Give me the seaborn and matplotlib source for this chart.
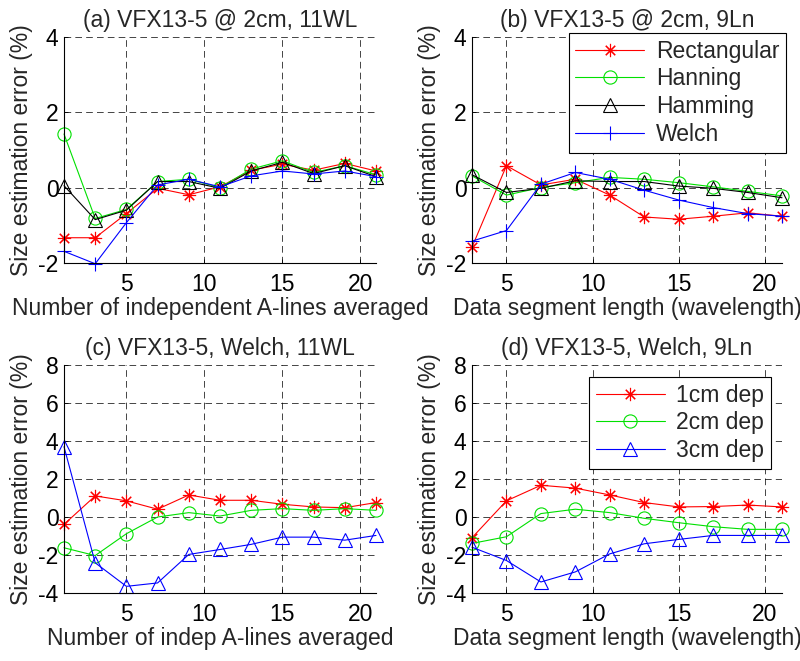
import numpy as np
import pandas as pd
import matplotlib
matplotlib.use("Agg")
import matplotlib.pyplot as plt
import seaborn as sns

sns.set_style("white")
plt.rcParams['font.family'] = ['Liberation Sans', 'DejaVu Sans']
plt.rcParams['axes.unicode_minus'] = False

# ---- data ----
x_a = [1, 3, 5, 7, 9, 11, 13, 15, 17, 19, 21]
a_rect = [-1.33, -1.33, -0.69, -0.02, -0.19, 0.02, 0.46, 0.62, 0.46, 0.64, 0.44]
a_hann = [1.42, -0.82, -0.58, 0.16, 0.22, 0.00, 0.49, 0.71, 0.40, 0.58, 0.34]
a_hamm = [0.05, -0.85, -0.60, 0.16, 0.16, -0.02, 0.44, 0.67, 0.37, 0.58, 0.29]
a_welch = [-1.69, -2.02, -0.93, 0.07, 0.22, 0.02, 0.31, 0.44, 0.36, 0.44, 0.29]

x_b = [3, 5, 7, 9, 11, 13, 15, 17, 19, 21]
b_rect = [-1.58, 0.58, 0.07, 0.22, -0.20, -0.78, -0.84, -0.76, -0.67, -0.76]
b_hann = [0.31, -0.20, 0.00, 0.13, 0.27, 0.22, 0.13, 0.02, -0.10, -0.22]
b_hamm = [0.34, -0.13, -0.02, 0.18, 0.16, 0.16, 0.04, -0.02, -0.13, -0.27]
b_welch = [-1.42, -1.14, 0.09, 0.40, 0.22, -0.07, -0.33, -0.53, -0.69, -0.76]

x_c = [1, 3, 5, 7, 9, 11, 13, 15, 17, 19, 21]
c_1cm = [-0.39, 1.11, 0.85, 0.41, 1.16, 0.88, 0.88, 0.67, 0.53, 0.49, 0.76]
c_2cm = [-1.62, -2.03, -0.88, 0.00, 0.23, 0.05, 0.35, 0.44, 0.35, 0.44, 0.35]
c_3cm = [3.70, -2.41, -3.65, -3.47, -1.97, -1.71, -1.44, -1.06, -1.06, -1.22, -0.97]

x_d = [3, 5, 7, 9, 11, 13, 15, 17, 19, 21]
d_1cm = [-1.09, 0.85, 1.67, 1.52, 1.16, 0.76, 0.53, 0.55, 0.63, 0.53]
d_2cm = [-1.39, -1.04, 0.18, 0.41, 0.23, -0.07, -0.30, -0.51, -0.65, -0.65]
d_3cm = [-1.59, -2.29, -3.42, -2.89, -1.94, -1.41, -1.18, -0.97, -0.97, -0.97]

window_names = ["Rectangular", "Hanning", "Hamming", "Welch"]
depth_names = ["1cm dep", "2cm dep", "3cm dep"]

titles = ["(a) VFX13-5 @ 2cm, 11WL", "(b) VFX13-5 @ 2cm, 9Ln",
          "(c) VFX13-5, Welch, 11WL", "(d) VFX13-5, Welch, 9Ln"]
xlabels = ["Number of independent A-lines averaged", "Data segment length (wavelength)",
           "Number of indep A-lines averaged", "Data segment length (wavelength)"]
ylabel = "Size estimation error (%)"

AST = (8, 2, 0)
win_styles = [("red", AST), ("#00e000", "o"), ("black", "^"), ("blue", "+")]
dep_styles = [("red", AST), ("#00e000", "o"), ("blue", "^")]

FS = 16.5
W, H = 800, 661
fig = plt.figure(figsize=(W / 100, H / 100), dpi=100)

def px_axes(l, t, r, b):
    return fig.add_axes([l / W, 1 - b / H, (r - l) / W, (b - t) / H])

axs = [px_axes(64, 36.7, 376, 263), px_axes(472, 36.7, 782, 263),
       px_axes(64, 365, 376, 593), px_axes(472, 365, 782, 593)]

panels = [
    (x_a, [a_rect, a_hann, a_hamm, a_welch], window_names, win_styles, (1, 21), (-2, 4), [-2, 0, 2, 4]),
    (x_b, [b_rect, b_hann, b_hamm, b_welch], window_names, win_styles, (3, 21), (-2, 4), [-2, 0, 2, 4]),
    (x_c, [c_1cm, c_2cm, c_3cm], depth_names, dep_styles, (1, 21), (-4, 8), [-4, -2, 0, 2, 4, 6, 8]),
    (x_d, [d_1cm, d_2cm, d_3cm], depth_names, dep_styles, (3, 21), (-4, 8), [-4, -2, 0, 2, 4, 6, 8]),
]

for i, (ax, (xs, ys, names, styles, xl, yl, yt)) in enumerate(zip(axs, panels)):
    for y, name, (col, mk) in zip(ys, names, styles):
        sns.lineplot(x=xs, y=y, ax=ax, color=col, marker=mk, markersize=9.5,
                     mfc="none", mec=col, mew=0.8, lw=0.8, label=name,
                     clip_on=False, legend=False)
    ax.set_xlim(*xl)
    ax.set_ylim(*yl)
    ax.set_xticks([5, 10, 15, 20])
    ax.set_yticks(yt)
    ax.grid(True, color="black", linestyle=(0, (8, 5)), lw=0.6, alpha=0.85)
    for s in ["top", "right"]:
        ax.spines[s].set_visible(False)
    for s in ["left", "bottom"]:
        ax.spines[s].set_color("black")
        ax.spines[s].set_linewidth(0.8)
    ax.tick_params(direction="in", length=3, width=0.6, labelsize=FS, pad=4,
                   colors="black", bottom=True, left=True)
    ax.tick_params(axis="x", pad=7)
    ax.set_title(titles[i], fontsize=FS, pad=7)
    ax.set_xlabel(xlabels[i], fontsize=FS, labelpad=1)
    ax.set_ylabel(ylabel, fontsize=FS, labelpad=4)

h, l = axs[1].get_legend_handles_labels()
leg = axs[1].legend(h, l, loc="upper right", bbox_to_anchor=(786 / W, 1 - 33 / H),
                    bbox_transform=fig.transFigure, fontsize=FS, handlelength=3.0,
                    fancybox=False, framealpha=1, edgecolor="black", borderpad=0.3,
                    labelspacing=0.2, handletextpad=0.5, borderaxespad=0)
leg.get_frame().set_linewidth(0.8)

h, l = axs[3].get_legend_handles_labels()
leg = axs[3].legend(h, l, loc="upper right", bbox_to_anchor=(771 / W, 1 - 377 / H),
                    bbox_transform=fig.transFigure, fontsize=FS, handlelength=3.0,
                    fancybox=False, framealpha=1, edgecolor="black", borderpad=0.3,
                    labelspacing=0.2, handletextpad=0.5, borderaxespad=0)
leg.get_frame().set_linewidth(0.8)

fig.savefig("out.png", dpi=100)
